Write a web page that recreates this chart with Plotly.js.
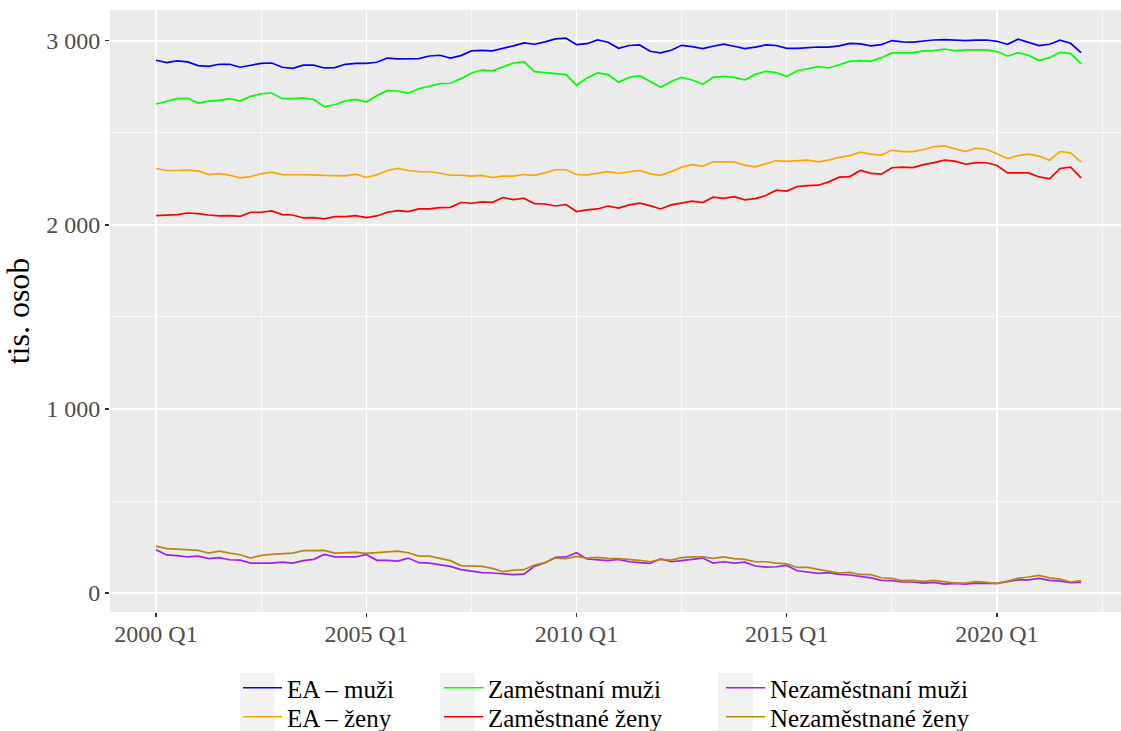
<!DOCTYPE html>
<html>
<head>
<meta charset="utf-8">
<script src="https://cdn.plot.ly/plotly-3.0.1.min.js"></script>
<style>html,body{margin:0;padding:0;background:#fff;}#chart{width:1121px;height:731px;}</style>
</head>
<body>
<div id="chart"></div>
<script>
// Quarterly data 2000 Q1 – 2022 Q1 (thousands of persons)
const startYear = 2000;
const nQuarters = 89;
const quarterIndex = Array.from({length: nQuarters}, (_, i) => i);
const quarterLabels = quarterIndex.map(i => (startYear + Math.floor(i / 4)) + ' Q' + (i % 4 + 1));

const eaMuzi = [2895,2882,2891,2886,2866,2862,2873,2873,2857,2866,2878,2880,2857,2851,2868,2868,2853,2855,2873,2878,2878,2884,2907,
  2902,2904,2904,2918,2922,2907,2920,2946,2949,2946,2958,2973,2989,2982,2995,3011,3015,2980,2985,3005,2993,2960,2975,
  2978,2944,2935,2949,2976,2969,2958,2971,2982,2971,2958,2966,2978,2975,2960,2960,2964,2967,2966,2973,2987,2984,2973,
  2980,3002,2995,2993,3000,3005,3007,3004,3002,3004,3005,2998,2982,3009,2993,2975,2982,3004,2987,2936];
const eaZeny = [2307,2296,2296,2298,2294,2274,2279,2270,2256,2263,2278,2287,2274,2274,2270,2272,2269,2267,2267,2276,2258,2272,2296,
  2307,2296,2290,2289,2281,2270,2270,2265,2269,2258,2265,2265,2274,2269,2283,2300,2300,2274,2272,2283,2290,2281,2290,
  2296,2278,2270,2290,2314,2328,2319,2343,2343,2343,2325,2316,2332,2350,2345,2347,2352,2343,2352,2367,2377,2396,2385,
  2379,2407,2399,2399,2410,2425,2430,2414,2399,2417,2410,2387,2361,2377,2385,2374,2352,2399,2392,2341];
const zamMuzi = [2657,2673,2686,2688,2662,2673,2677,2686,2673,2699,2713,2717,2686,2686,2690,2682,2642,2653,2675,2682,2668,2702,2730,
  2728,2715,2740,2755,2768,2770,2795,2826,2842,2837,2858,2880,2887,2833,2828,2822,2817,2759,2799,2826,2817,2775,2802,
  2811,2780,2748,2780,2802,2788,2764,2802,2808,2802,2788,2818,2835,2828,2806,2838,2849,2860,2853,2869,2889,2893,2889,
  2909,2935,2935,2935,2946,2947,2956,2946,2951,2951,2951,2942,2917,2936,2922,2893,2909,2938,2931,2877];
const zamZeny = [2051,2053,2056,2065,2062,2054,2049,2051,2047,2069,2069,2076,2056,2054,2038,2040,2033,2045,2045,2051,2040,2049,2069,
  2078,2073,2087,2087,2094,2096,2122,2118,2125,2123,2149,2138,2145,2116,2114,2103,2111,2073,2082,2087,2103,2092,2109,
  2118,2105,2087,2109,2120,2129,2122,2151,2145,2154,2136,2143,2160,2189,2184,2209,2214,2216,2234,2260,2263,2296,2280,
  2276,2311,2314,2312,2328,2339,2352,2347,2330,2339,2338,2323,2283,2283,2283,2261,2250,2307,2314,2256];
const nezamMuzi = [235,207,203,196,201,187,192,181,179,163,163,163,168,163,176,183,210,197,197,196,210,178,178,
  174,190,165,163,156,145,127,120,111,109,105,100,103,145,165,194,196,219,185,179,176,183,170,
  165,161,185,170,176,181,190,163,170,163,168,147,141,143,150,121,116,107,111,101,98,91,82,
  69,67,60,60,54,58,49,53,49,54,53,53,62,72,72,80,69,65,56,58];
const nezamZeny = [255,241,239,234,232,217,228,217,208,190,205,210,214,217,230,230,232,217,219,221,216,219,223,
  228,219,201,201,188,176,149,147,145,134,116,125,127,152,165,190,187,199,190,194,188,187,183,
  178,170,183,179,192,196,196,188,196,187,183,170,170,163,159,139,139,129,118,109,112,101,100,
  83,80,67,69,63,69,60,54,54,62,58,51,65,80,87,96,82,76,60,67];

const xTickVals = [0, 20, 40, 60, 80];
const xTickText = ['2000 Q1', '2005 Q1', '2010 Q1', '2015 Q1', '2020 Q1'];
const yTickVals = [0, 1000, 2000, 3000];
const yTickText = ['0', '1 000', '2 000', '3 000'];

const seriesNames = ['EA – muži', 'EA – ženy', 'Zaměstnaní muži', 'Zaměstnané ženy', 'Nezaměstnaní muži', 'Nezaměstnané ženy'];
const seriesData = [eaMuzi, eaZeny, zamMuzi, zamZeny, nezamMuzi, nezamZeny];
const seriesColors = ['#0000FF', '#FFA500', '#00FF00', '#FF0000', '#A020F0', '#B8860B'];
const legendIds = ['legend', 'legend2', 'legend3', 'legend4', 'legend5', 'legend6'];

const FONT = 'Liberation Serif, Times New Roman, serif';

const traces = seriesData.map((d, k) => ({
  type: 'scatter', mode: 'lines',
  x: quarterIndex, y: d, name: seriesNames[k],
  text: quarterLabels, hovertemplate: '%{text}: %{y}<extra>%{fullData.name}</extra>',
  line: {color: seriesColors[k], width: 1.7},
  legend: legendIds[k]
}));

// plot area pixel geometry
const L = 110, R = 0, T = 10, B = 119, W = 1121, H = 731;
const pw = W - L - R, ph = H - T - B;
const px2x = p => (p - L) / pw;
const py2y = p => (H - B - p) / ph;

const legendCommon = {
  orientation: 'v', xanchor: 'left', yanchor: 'middle',
  bgcolor: 'rgba(0,0,0,0)', borderwidth: 0,
  font: {family: FONT, size: 25, color: '#000'},
  tracegroupgap: 0, itemwidth: 39
};
const legendColX = [238, 238, 439, 439, 721, 721];
const legendRowY = [688, 717, 688, 717, 688, 717];

const keyShapes = [240, 440, 718].map(p => ({
  type: 'rect', xref: 'paper', yref: 'paper', layer: 'below',
  x0: px2x(p), x1: px2x(p + 35), y0: py2y(673), y1: py2y(731),
  fillcolor: '#F2F2F2', line: {width: 0}
}));

const layout = {
  width: W, height: H,
  margin: {l: L, r: R, t: T, b: B, pad: 0, autoexpand: false},
  paper_bgcolor: '#FFFFFF', plot_bgcolor: '#EBEBEB',
  font: {family: FONT, size: 24, color: '#4D4D4D'},
  showlegend: true,
  shapes: keyShapes,
  xaxis: {
    range: [-4.38, 91.8], autorange: false,
    tickmode: 'array', tickvals: xTickVals, ticktext: xTickText,
    ticks: 'outside', ticklen: 4, tickwidth: 1.1, tickcolor: '#333333',
    ticklabelstandoff: -4,
    tickfont: {family: FONT, size: 24, color: '#4D4D4D'},
    showgrid: true, gridcolor: '#FFFFFF', gridwidth: 1.4,
    minor: {tickmode: 'array', tickvals: [10, 30, 50, 70, 90], showgrid: true, gridcolor: '#FFFFFF', gridwidth: 0.7, ticks: ''},
    zeroline: false, showline: false, automargin: false, fixedrange: true
  },
  yaxis: {
    range: [-103, 3168], autorange: false,
    tickmode: 'array', tickvals: yTickVals, ticktext: yTickText,
    ticks: 'outside', ticklen: 4, tickwidth: 1.1, tickcolor: '#333333',
    tickfont: {family: FONT, size: 24, color: '#4D4D4D'},
    showgrid: true, gridcolor: '#FFFFFF', gridwidth: 1.4,
    minor: {tickmode: 'array', tickvals: [500, 1500, 2500], showgrid: true, gridcolor: '#FFFFFF', gridwidth: 0.7, ticks: ''},
    zeroline: false, showline: false, automargin: false, fixedrange: true,
    title: {text: 'tis. osob', font: {family: FONT, size: 32, color: '#000'}, standoff: 10}
  }
};
legendIds.forEach((id, k) => {
  layout[id] = Object.assign({}, legendCommon, {x: px2x(legendColX[k]), y: py2y(legendRowY[k])});
});

Plotly.newPlot('chart', traces, layout, {displayModeBar: false, staticPlot: true});
</script>
</body>
</html>
